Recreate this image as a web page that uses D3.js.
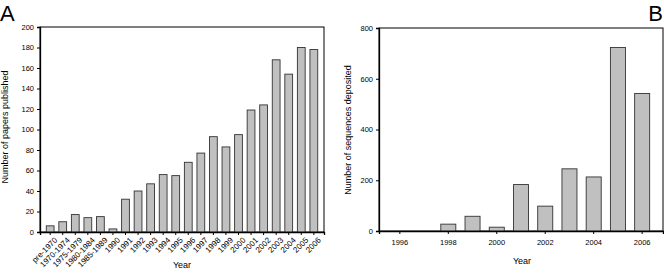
<!DOCTYPE html>
<html lang="en">
<head>
<meta charset="UTF-8">
<title>papers and sequences</title>
<script src="https://cdn.jsdelivr.net/npm/d3@7"></script>
<style>
    body { margin: 0; background: #fff; }
    svg { display: block; font-family: "Liberation Sans", Arial, sans-serif; }
</style>
</head>
<body>
<div id="chart"></div>
<script>
    // panel A: papers published
    let paperCats = ["pre-1970", "1970-1974", "1975-1979", "1980-1984", "1985-1989", "1990",
        "1991", "1992", "1993", "1994", "1995", "1996", "1997", "1998", "1999", "2000",
        "2001", "2002", "2003", "2004", "2005", "2006"];
    let paperVals = [6, 10, 17, 14, 15, 3, 32, 40, 47, 56, 55, 68, 77, 93, 83, 95,
        119, 124, 168, 154, 180, 178];
    let paperTicks = [0, 20, 40, 60, 80, 100, 120, 140, 160, 180, 200];

    // panel B: sequences deposited
    let seqYears = ["1996", "1997", "1998", "1999", "2000", "2001", "2002", "2003", "2004", "2005", "2006"];
    let seqVals = [0, 0, 27, 58, 15, 183, 98, 245, 213, 723, 542];
    let seqTicks = [0, 200, 400, 600, 800];
    let seqLabels = ["1996", "1998", "2000", "2002", "2004", "2006"];

    let svg = d3.select("#chart").append("svg")
        .attr("width", 664)
        .attr("height", 277);

    function panel(opt) {
        let g = svg.append("g");
        let x = d3.scaleBand()
            .domain(opt.cats)
            .range([opt.x0, opt.x1])
            .paddingInner(opt.padIn)
            .paddingOuter(opt.padOut);
        let y = d3.scaleLinear()
            .domain([0, opt.max])
            .range([opt.y0, opt.y1]);

        // frame
        g.append("rect")
            .attr("x", opt.x0).attr("y", opt.y1)
            .attr("width", opt.x1 - opt.x0).attr("height", opt.y0 - opt.y1)
            .attr("fill", "none").attr("stroke", "#000").attr("stroke-width", 1);

        g.selectAll(".bar")
            .data(opt.vals)
            .enter()
            .append("rect")
            .attr("class", "bar")
            .attr("x", (d, i) => x(opt.cats[i]))
            .attr("y", d => y(d))
            .attr("width", x.bandwidth())
            .attr("height", d => opt.y0 - y(d))
            .attr("fill", "#c0c0c0")
            .attr("stroke", "#333")
            .attr("stroke-width", 0.9);

        // y axis
        let yAxis = d3.axisLeft(y).tickValues(opt.yticks).tickSize(3).tickPadding(3);
        let ya = g.append("g")
            .attr("transform", "translate(" + opt.x0 + ",0)")
            .call(yAxis);
        ya.select(".domain").attr("stroke-width", 1.3);
        ya.selectAll("text").attr("font-size", 7.5).attr("fill", "#000").style("font-family", "inherit");

        // x axis
        let xAxis = d3.axisBottom(x).tickValues(opt.xticks).tickSize(3).tickPadding(opt.rot ? 1 : 6);
        let xa = g.append("g")
            .attr("transform", "translate(0," + opt.y0 + ")")
            .call(xAxis);
        xa.select(".domain").attr("stroke-width", 1.3);
        xa.selectAll("text").attr("font-size", opt.rot ? 8 : 7.5).attr("fill", "#000").style("font-family", "inherit");
        if (opt.rot) {
            xa.selectAll("text")
                .attr("text-anchor", "end")
                .attr("dy", "0.5em")
                .attr("transform", "translate(2,3) rotate(-45)");
        }

        g.append("text")
            .attr("x", opt.xlabX).attr("y", opt.xlabY)
            .attr("text-anchor", "middle")
            .attr("font-size", 9)
            .text("Year");

        g.append("text")
            .attr("transform", "translate(" + opt.ylabX + "," + opt.ylabY + ") rotate(-90)")
            .attr("text-anchor", "middle")
            .attr("font-size", 9)
            .text(opt.ylab);

        g.append("text")
            .attr("x", opt.letterX).attr("y", 21)
            .attr("text-anchor", opt.letterAnchor)
            .attr("font-size", 22)
            .text(opt.letter);
    }

    panel({
        cats: paperCats, vals: paperVals, max: 200, yticks: paperTicks, xticks: paperCats,
        x0: 40, x1: 324, y0: 232, y1: 27, padIn: 0.38, padOut: 0.5, rot: true,
        xlabX: 182, xlabY: 268, ylabX: 8, ylabY: 127, ylab: "Number of papers published",
        letter: "A", letterX: 0, letterAnchor: "start"
    });

    panel({
        cats: seqYears, vals: seqVals, max: 800, yticks: seqTicks, xticks: seqLabels,
        x0: 379, x1: 663, y0: 231, y1: 28, padIn: 0.38, padOut: 0.55, rot: false,
        xlabX: 522, xlabY: 264, ylabX: 351, ylabY: 130, ylab: "Number of sequences deposited",
        letter: "B", letterX: 663, letterAnchor: "end"
    });
</script>
</body>
</html>
